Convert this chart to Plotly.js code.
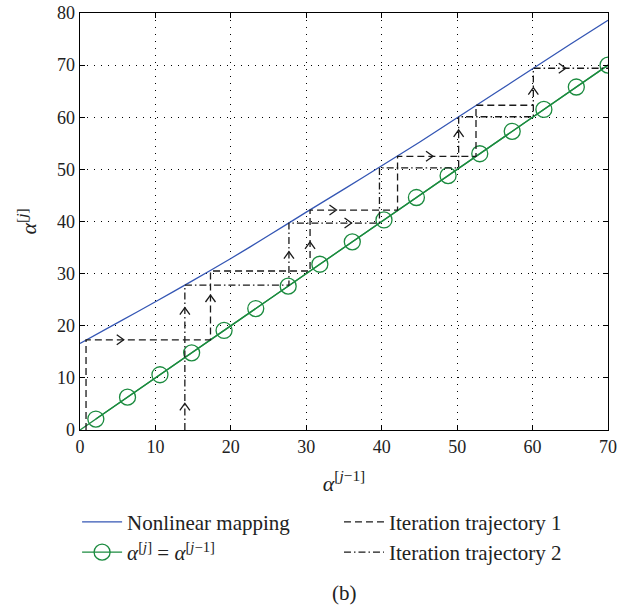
<!DOCTYPE html>
<html>
<head>
<meta charset="utf-8">
<script src="https://cdn.plot.ly/plotly-3.0.1.min.js"></script>
<style>html,body{margin:0;padding:0;background:#fff;}#chart{width:636px;height:607px;}</style>
</head>
<body>
<div id="chart"></div>
<script>
// Nonlinear mapping curve
const mapX = [0, 5, 10, 15, 20, 25, 30, 35, 40, 45, 50, 55, 60, 65, 70];
const mapY = [16.6, 20.6, 24.6, 28.7, 32.9, 37.3, 41.8, 46.2, 50.7, 55.2, 59.9, 64.6, 69.3, 74.0, 78.6];
// Identity line alpha[j] = alpha[j-1]
const idX = [0, 70];
const idY = [0, 70];
const idMarkX = [2.1, 6.3, 10.6, 14.8, 19.1, 23.3, 27.6, 31.8, 36.1, 40.3, 44.6, 48.8, 53.0, 57.3, 61.5, 65.8, 70];
// Iteration trajectory 1 (dashed)
const t1X = [0.8, 0.8, 17.3, 17.3, 30.5, 30.5, 42.1, 42.1, 52.5, 52.5, 60.1];
const t1Y = [0, 17.3, 17.3, 30.5, 30.5, 42.2, 42.2, 52.5, 52.5, 62.3, 62.3];
// Iteration trajectory 2 (dash-dot)
const t2X = [13.9, 13.9, 27.7, 27.7, 39.7, 39.7, 50.2, 50.2, 60.1, 60.1, 70];
const t2Y = [0, 27.8, 27.8, 39.7, 39.7, 50.3, 50.3, 60.1, 60.1, 69.4, 69.4];
// Arrow heads (tip positions and direction)
const arrowX = [5.8, 34.0, 46.8, 17.3, 30.5, 13.9, 13.9, 27.7, 50.2, 60.1, 36.0, 64.4];
const arrowY = [17.3, 42.2, 52.5, 25.9, 36.1, 5.1, 23.5, 34.2, 57.6, 65.7, 39.7, 69.4];
const arrowDir = ['r', 'r', 'r', 'u', 'u', 'u', 'u', 'u', 'u', 'u', 'r', 'r'];
// Axis ticks
const xTicks = [0, 10, 20, 30, 40, 50, 60, 70];
const yTicks = [0, 10, 20, 30, 40, 50, 60, 70, 80];

const W = 636, H = 607;
const M = {l: 80, r: 28, t: 13, b: 177};
const xRange = [0, 70], yRange = [0, 80];
const sx = (W - M.l - M.r) / (xRange[1] - xRange[0]);
const sy = (H - M.t - M.b) / (yRange[1] - yRange[0]);
const depth = 7, half = 5;

const chevX = [], chevY = [];
for (let i = 0; i < arrowX.length; i++) {
  const x = arrowX[i], y = arrowY[i];
  if (arrowDir[i] === 'r') {
    chevX.push(x - depth / sx, x, x - depth / sx, null);
    chevY.push(y + half / sy, y, y - half / sy, null);
  } else {
    chevX.push(x - half / sx, x, x + half / sx, null);
    chevY.push(y - depth / sy, y, y - depth / sy, null);
  }
}

const blue = '#3456b4', green = '#1b8b3f', ink = '#1a1a1a';
const serif = 'Liberation Serif, Times New Roman, serif';

const traces = [
  {x: mapX, y: mapY, mode: 'lines', name: 'Nonlinear mapping', line: {color: blue, width: 1.3, shape: 'spline', smoothing: 0.6}, legend: 'legend', legendrank: 1},
  {x: idX, y: idY, mode: 'lines', showlegend: false, line: {color: green, width: 1.3}, hoverinfo: 'skip'},
  {x: idMarkX, y: idMarkX, mode: 'lines+markers', name: '<i>α</i><sup>[<i>j</i>]</sup> = <i>α</i><sup>[<i>j</i>−1]</sup>', line: {color: green, width: 1.3}, marker: {symbol: 'circle-open', size: 16, color: green, line: {width: 1.3, color: green}}, legend: 'legend', legendrank: 2},
  {x: t1X, y: t1Y, mode: 'lines', name: 'Iteration trajectory 1', line: {color: ink, width: 1.3, dash: '7px,4px'}, legend: 'legend2', legendrank: 1},
  {x: t2X, y: t2Y, mode: 'lines', name: 'Iteration trajectory 2', line: {color: ink, width: 1.3, dash: '7px,3px,1.5px,3px'}, legend: 'legend2', legendrank: 2},
  {x: chevX, y: chevY, mode: 'lines', showlegend: false, line: {color: ink, width: 1.3}, hoverinfo: 'skip', connectgaps: false}
];

const axisCommon = {
  showline: true, linecolor: '#000', linewidth: 1.3, mirror: 'allticks',
  ticks: 'inside', ticklen: 5, tickcolor: '#000', tickwidth: 1,
  showgrid: true, gridcolor: '#000', gridwidth: 1, griddash: '1px,6px',
  zeroline: false, tickfont: {family: serif, size: 18, color: '#222'}
};

const legendFont = {family: serif, size: 21, color: '#222'};

const layout = {
  width: W, height: H,
  margin: M,
  paper_bgcolor: '#fff', plot_bgcolor: '#fff',
  font: {family: serif, color: '#222'},
  xaxis: Object.assign({}, axisCommon, {range: xRange, tickvals: xTicks, ticktext: xTicks.map(String),
    title: {text: '<i>α</i><sup>[<i>j</i>−1]</sup>', font: {family: serif, size: 22, color: '#222'}, standoff: 19}}),
  yaxis: Object.assign({}, axisCommon, {range: yRange, tickvals: yTicks, ticktext: yTicks.map(String),
    title: {text: '<i>α</i><sup>[<i>j</i>]</sup>', font: {family: serif, size: 22, color: '#222'}, standoff: 14}}),
  legend: {x: -0.0055, xanchor: 'left', y: -0.172, yanchor: 'top', orientation: 'v', bgcolor: 'rgba(0,0,0,0)', font: legendFont, tracegroupgap: 0, itemwidth: 40},
  legend2: {x: 0.4905, xanchor: 'left', y: -0.172, yanchor: 'top', orientation: 'v', bgcolor: 'rgba(0,0,0,0)', font: legendFont, tracegroupgap: 0, itemwidth: 40},
  annotations: [
    {text: '(b)', xref: 'paper', yref: 'paper', x: 0.5, y: -0.39, xanchor: 'center', yanchor: 'middle', showarrow: false, font: {family: serif, size: 21, color: '#222'}}
  ],
  showlegend: true
};

Plotly.newPlot('chart', traces, layout, {displayModeBar: false, staticPlot: true});
</script>
</body>
</html>
